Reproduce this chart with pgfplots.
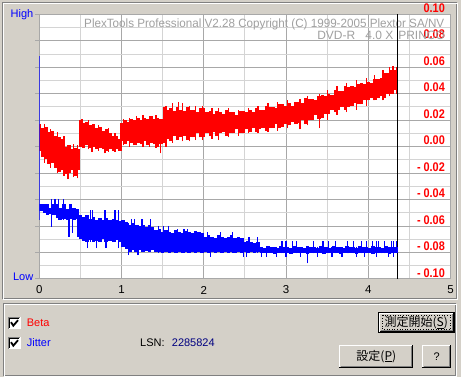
\documentclass[border=0pt]{standalone}
\usepackage{fontspec}
\setmainfont{Liberation Sans}
\newfontfamily\cjk{Noto Sans CJK JP}
\usepackage{graphicx}
\usepackage{pgfplots}
\usepackage{pgfplotstable}
\pgfplotsset{compat=1.18}
\definecolor{panel}{HTML}{D4D0C8}
\definecolor{gridd}{HTML}{A8A8A8}
\definecolor{gridl}{HTML}{D4D4D4}
\definecolor{wm}{HTML}{A0A0A0}
\definecolor{shadow}{HTML}{808080}
\definecolor{navy}{HTML}{000080}
\newcommand{\ui}{\fontsize{11bp}{13bp}\selectfont}

% Beta: dense band, one column per row (x, low, high)
\pgfplotstableread{
x lo hi
0.00 -0.003 0.017
0.04 -0.008 0.014
0.08 -0.009 0.015
0.12 -0.013 0.011
0.16 -0.012 0.012
0.20 -0.016 0.008
0.24 -0.019 0.007
0.28 -0.018 0.006
0.32 -0.021 0.000
0.36 -0.020 0.001
0.40 -0.018 -0.002
0.44 -0.022 -0.001
0.47 -0.018 -0.002
0.50 0.000 0.020
0.54 -0.001 0.018
0.58 0.001 0.019
0.62 -0.001 0.016
0.66 0.000 0.017
0.70 -0.002 0.014
0.74 -0.001 0.015
0.78 -0.002 0.012
0.82 -0.003 0.013
0.86 -0.002 0.010
0.90 -0.003 0.008
0.94 -0.002 0.008
0.98 -0.003 0.006
1.00 0.004 0.018
1.04 0.002 0.020
1.08 0.004 0.019
1.12 0.003 0.021
1.16 0.001 0.020
1.20 0.003 0.022
1.24 0.002 0.020
1.28 0.004 0.022
1.32 0.001 0.021
1.36 0.003 0.023
1.40 0.002 0.021
1.44 0.000 0.022
1.48 0.002 0.021
1.52 0.003 0.030
1.56 0.006 0.028
1.60 0.004 0.029
1.64 0.008 0.027
1.68 0.005 0.030
1.72 0.007 0.028
1.76 0.008 0.027
1.80 0.005 0.030
1.84 0.007 0.028
1.88 0.007 0.028
1.92 0.010 0.026
1.96 0.007 0.029
2.00 0.007 0.029
2.04 0.010 0.026
2.08 0.008 0.027
2.12 0.011 0.025
2.16 0.008 0.027
2.20 0.010 0.026
2.24 0.011 0.025
2.28 0.008 0.028
2.32 0.010 0.026
2.36 0.010 0.026
2.40 0.013 0.024
2.44 0.010 0.027
2.48 0.010 0.027
2.52 0.013 0.026
2.56 0.011 0.028
2.60 0.014 0.026
2.64 0.011 0.029
2.68 0.013 0.028
2.72 0.014 0.028
2.76 0.012 0.031
2.80 0.014 0.030
2.84 0.014 0.030
2.88 0.017 0.029
2.92 0.014 0.032
2.96 0.015 0.032
3.00 0.017 0.031
3.04 0.016 0.033
3.08 0.019 0.031
3.12 0.017 0.034
3.16 0.018 0.034
3.20 0.020 0.033
3.24 0.017 0.037
3.28 0.020 0.036
3.32 0.020 0.036
3.36 0.024 0.035
3.40 0.021 0.038
3.44 0.022 0.039
3.48 0.025 0.038
3.52 0.025 0.040
3.56 0.028 0.039
3.60 0.026 0.043
3.64 0.028 0.042
3.68 0.030 0.042
3.72 0.028 0.046
3.76 0.030 0.045
3.80 0.031 0.046
3.84 0.033 0.045
3.88 0.032 0.047
3.92 0.032 0.048
3.96 0.035 0.047
4.00 0.035 0.049
4.04 0.037 0.048
4.08 0.035 0.051
4.12 0.037 0.051
4.16 0.038 0.052
4.20 0.037 0.056
4.24 0.040 0.056
4.28 0.040 0.058
4.32 0.043 0.058
}\betaband

% Beta: single spikes reaching beyond the band
\pgfplotstableread{
x lo hi
0.06 -0.012 0.017
0.14 -0.016 0.013
0.22 -0.020 0.011
0.30 -0.022 0.008
0.35 -0.0245 0.000
0.42 -0.023 0.002
0.46 -0.024 0.001
0.52 0.000 0.021
0.60 -0.002 0.020
0.64 -0.004 0.015
0.72 -0.003 0.016
0.80 -0.005 0.010
0.84 -0.004 0.014
0.92 -0.004 0.010
1.02 0.001 0.021
1.10 0.000 0.022
1.18 0.001 0.023
1.26 0.000 0.024
1.34 0.000 0.023
1.42 -0.001 0.024
1.47 -0.005 0.018
1.54 0.000 0.031
1.62 0.003 0.033
1.69 0.006 0.034
1.74 0.004 0.033
1.83 0.004 0.031
1.90 0.005 0.031
1.98 0.005 0.031
2.10 0.006 0.029
2.18 0.005 0.029
2.30 0.007 0.029
2.42 0.008 0.028
2.54 0.010 0.029
2.66 0.010 0.031
2.78 0.011 0.033
2.90 0.012 0.034
3.02 0.014 0.035
3.17 0.013 0.036
3.26 0.016 0.038
3.41 0.014 0.040
3.50 0.020 0.043
3.62 0.024 0.046
3.74 0.026 0.048
3.86 0.028 0.050
3.98 0.031 0.052
4.08 0.035 0.054
4.18 0.035 0.058
4.26 0.038 0.060
4.30 0.040 0.061
4.345 0.040 0.060
4.355 0.041 0.058
}\betaspike

% Jitter (0 = Low, 1 = High): dense band
\pgfplotstableread{
x lo hi
0.02 0.258 0.283
0.06 0.250 0.283
0.10 0.242 0.283
0.14 0.245 0.270
0.18 0.240 0.283
0.22 0.230 0.283
0.26 0.223 0.270
0.30 0.225 0.283
0.34 0.223 0.265
0.38 0.228 0.283
0.42 0.223 0.270
0.46 0.225 0.265
0.50 0.150 0.242
0.54 0.145 0.235
0.58 0.141 0.242
0.62 0.148 0.228
0.66 0.141 0.235
0.70 0.145 0.223
0.74 0.141 0.232
0.78 0.150 0.223
0.82 0.141 0.230
0.86 0.145 0.223
0.90 0.141 0.228
0.94 0.148 0.223
0.98 0.141 0.220
1.02 0.122 0.223
1.06 0.115 0.215
1.10 0.103 0.204
1.14 0.110 0.210
1.18 0.103 0.204
1.22 0.108 0.200
1.26 0.103 0.204
1.30 0.106 0.198
1.34 0.103 0.204
1.38 0.108 0.195
1.42 0.103 0.185
1.46 0.103 0.190
1.50 0.099 0.179
1.54 0.103 0.185
1.58 0.099 0.179
1.62 0.103 0.175
1.66 0.099 0.185
1.70 0.103 0.179
1.74 0.099 0.175
1.78 0.103 0.182
1.82 0.099 0.179
1.86 0.103 0.175
1.90 0.099 0.182
1.94 0.103 0.179
1.98 0.099 0.175
2.02 0.103 0.160
2.06 0.099 0.165
2.10 0.103 0.160
2.14 0.099 0.155
2.18 0.103 0.165
2.22 0.099 0.160
2.26 0.103 0.155
2.30 0.099 0.160
2.34 0.103 0.165
2.38 0.099 0.155
2.42 0.103 0.160
2.46 0.099 0.155
2.50 0.103 0.141
2.54 0.099 0.145
2.58 0.103 0.141
2.62 0.099 0.135
2.66 0.103 0.141
2.70 0.099 0.122
2.74 0.100 0.118
2.78 0.097 0.124
2.82 0.099 0.120
2.86 0.095 0.122
2.90 0.097 0.118
2.94 0.100 0.124
2.98 0.097 0.120
3.02 0.099 0.122
3.06 0.095 0.118
3.10 0.097 0.124
3.14 0.100 0.120
3.18 0.097 0.122
3.22 0.099 0.118
3.26 0.095 0.124
3.30 0.097 0.120
3.34 0.100 0.122
3.38 0.097 0.118
3.42 0.099 0.124
3.46 0.095 0.120
3.50 0.097 0.122
3.54 0.100 0.118
3.58 0.097 0.124
3.62 0.099 0.120
3.66 0.095 0.122
3.70 0.097 0.118
3.74 0.100 0.124
3.78 0.097 0.120
3.82 0.099 0.122
3.86 0.095 0.118
3.90 0.097 0.124
3.94 0.100 0.120
3.98 0.097 0.122
4.02 0.099 0.118
4.06 0.095 0.124
4.10 0.097 0.120
4.14 0.100 0.122
4.18 0.097 0.118
4.22 0.099 0.124
4.26 0.095 0.120
4.30 0.097 0.122
4.34 0.099 0.120
}\jitband

% Jitter: single spikes
\pgfplotstableread{
x lo hi
0.005 0.223 0.842
0.15 0.198 0.301
0.19 0.240 0.301
0.23 0.223 0.301
0.29 0.223 0.301
0.36 0.160 0.265
0.40 0.175 0.270
0.47 0.160 0.265
0.59 0.117 0.235
0.62 0.141 0.261
0.65 0.141 0.261
0.70 0.117 0.223
0.80 0.141 0.261
0.81 0.117 0.223
0.92 0.141 0.261
0.96 0.117 0.261
1.08 0.090 0.210
1.12 0.103 0.225
1.16 0.103 0.225
1.20 0.090 0.204
1.25 0.103 0.225
1.35 0.103 0.225
1.45 0.099 0.200
1.51 0.099 0.200
1.57 0.099 0.200
1.68 0.099 0.190
1.76 0.099 0.190
1.80 0.099 0.190
2.05 0.099 0.179
2.08 0.084 0.160
2.20 0.099 0.179
2.35 0.099 0.179
2.48 0.084 0.155
2.52 0.084 0.141
2.55 0.099 0.160
2.65 0.099 0.160
2.70 0.084 0.122
2.76 0.084 0.122
2.88 0.084 0.122
2.95 0.097 0.145
3.00 0.084 0.145
3.08 0.097 0.145
3.13 0.097 0.145
3.18 0.084 0.122
3.26 0.059 0.122
3.33 0.097 0.145
3.38 0.084 0.122
3.45 0.097 0.145
3.52 0.097 0.145
3.56 0.084 0.122
3.60 0.097 0.145
3.68 0.084 0.122
3.75 0.097 0.145
3.82 0.097 0.145
3.86 0.084 0.122
3.92 0.097 0.145
3.95 0.084 0.122
3.98 0.097 0.145
4.05 0.097 0.145
4.10 0.084 0.145
4.12 0.097 0.145
4.20 0.097 0.145
4.25 0.084 0.122
4.28 0.097 0.145
4.31 0.084 0.145
4.34 0.097 0.145
}\jitspike

\pgfplotsset{
  common/.style={
    at={(39.3bp,98bp)}, anchor=south west,
    width=411.2bp, height=264.7bp, scale only axis,
    xmin=0, xmax=5,
  },
  cols/.style 2 args={draw=none, mark=none,
    error bars/y dir=plus, error bars/y explicit, error bars/error mark=none,
    error bars/error bar style={line width=#1, draw=#2}},
}

\begin{document}
\begin{tikzpicture}
\path[use as bounding box, fill=panel] (0,0) rectangle (461bp,377bp);
\begin{scope}[x=1bp,y=-1bp,shift={(0bp,377bp)}]
  \draw[shadow, line width=1bp] (2.5,2.5) rectangle (456.5,298.5);
  \draw[white, line width=1bp] (3.5,3.5) rectangle (457.5,299.5);
  \draw[shadow, line width=1bp] (3.5,303.5) rectangle (455.5,375.5);
  \draw[white, line width=1bp] (4.5,304.5) rectangle (456.5,376.5);
\end{scope}

% Beta axis (right scale)
\begin{axis}[common,
  ymin=-0.1, ymax=0.1,
  axis background/.style={fill=white},
  xtick={0,1,2,3,4,5}, xticklabels={0,1,2,3,4,5},
  minor xtick={0.5,1.5,2.5,3.5,4.5},
  ytick={-0.1,-0.08,-0.06,-0.04,-0.02,0,0.02,0.04,0.06,0.08,0.1},
  minor ytick={-0.09,-0.07,-0.05,-0.03,-0.01,0.01,0.03,0.05,0.07,0.09},
  yticklabels={-\hspace{3.5bp}0.10,-\hspace{3.5bp}0.08,-\hspace{3.5bp}0.06,-\hspace{3.5bp}0.04,-\hspace{3.5bp}0.02,0.00,0.02,0.04,0.06,0.08,0.10},
  grid=both,
  major grid style={draw=gridd, line width=1bp},
  minor grid style={draw=gridl, line width=1bp},
  axis line style={draw=gridd, line width=1bp},
  major tick length=0pt, minor tick length=0pt,
  yticklabel pos=right,
  yticklabel style={red, font=\fontsize{12.5bp}{13bp}\selectfont\bfseries,
    anchor=east, inner sep=0pt, xscale=0.87, xshift=-6.3bp, yshift=6.3bp},
  xticklabel style={black, font=\fontsize{11.5bp}{13bp}\selectfont,
    anchor=center, inner sep=0pt, yshift=-11bp},
]
\node[wm, font=\fontsize{12bp}{13bp}\selectfont, anchor=west, inner sep=0pt] at (axis cs:0.544,0.0923)
  {\resizebox{360bp}{\height}{PlexTools Professional V2.28 Copyright (C) 1999-2005 Plextor SA/NV}};
\node[wm, font=\fontsize{12bp}{13bp}\selectfont, anchor=west, inner sep=0pt] at (axis cs:3.378,0.0844) {DVD-R};
\node[wm, font=\fontsize{12bp}{13bp}\selectfont, anchor=west, inner sep=0pt] at (axis cs:3.962,0.0844) {4.0 X};
\node[wm, font=\fontsize{12bp}{13bp}\selectfont, anchor=east, inner sep=0pt] at (axis cs:4.935,0.0844) {PRINCO};
\addplot[cols={3.4bp}{red}]
  table[x=x, y=lo, y error expr=\thisrow{hi}-\thisrow{lo}] {\betaband};
\addplot[cols={1.2bp}{red}]
  table[x=x, y=lo, y error expr=\thisrow{hi}-\thisrow{lo}] {\betaspike};
\addplot[black, line width=1bp] coordinates {(4.36,-0.1) (4.36,0.1)};
\end{axis}

% Jitter axis (High / Low)
\begin{axis}[common,
  ymin=0, ymax=1,
  axis line style={draw=none},
  xtick=\empty,
  ytick={0,0.1,0.2,0.3,0.4,0.5,0.6,0.7,0.8,0.9,1},
  yticklabels={,,,,,,,,,,High},
  extra y ticks={0}, extra y tick labels={Low},
  extra y tick style={yticklabel style={yshift=2bp}},
  ytick pos=left, tick align=outside, major tick length=4bp,
  tick style={draw=gridd, line width=1bp},
  yticklabel style={blue, font=\ui, anchor=east, inner sep=0pt, xshift=-1.8bp},
]
\addplot[cols={3.4bp}{blue}]
  table[x=x, y=lo, y error expr=\thisrow{hi}-\thisrow{lo}] {\jitband};
\addplot[cols={1.2bp}{blue}]
  table[x=x, y=lo, y error expr=\thisrow{hi}-\thisrow{lo}] {\jitspike};
\end{axis}

\begin{scope}[x=1bp,y=-1bp,shift={(0bp,377bp)}]
  % checkboxes
  \foreach \yy in {316.7,336.7}{
    \fill[white] (8,\yy) rectangle (20.7,\yy+12.6);
    \draw[shadow, line width=1bp] (8.5,\yy+12.1) -- (8.5,\yy+0.5) -- (20.2,\yy+0.5);
    \draw[black, line width=1bp] (9.5,\yy+11.1) -- (9.5,\yy+1.5) -- (19.2,\yy+1.5);
    \draw[black, line width=1.8bp] (11,\yy+5.5) -- (13.3,\yy+9) -- (18,\yy+3.5);
  }
  \node[red, font=\ui, anchor=west, inner sep=0pt] at (26.7,322.3) {Beta};
  \node[blue, font=\ui, anchor=west, inner sep=0pt] at (26.7,342.7) {Jitter};
  \node[black, font=\ui, anchor=west, inner sep=0pt] at (140,342.7) {LSN:};
  \node[navy, font=\ui, anchor=west, inner sep=0pt] at (171.7,342.7) {2285824};
  % default button
  \draw[black, line width=1bp] (378.8,312.2) rectangle (454.0,333.0);
  \draw[white, line width=1bp] (379.8,332.0) -- (379.8,313.2) -- (453.0,313.2);
  \draw[black, line width=1bp] (379.8,332.0) -- (453.0,332.0) -- (453.0,313.2);
  \draw[shadow, line width=1bp] (380.8,331.0) -- (452.0,331.0) -- (452.0,314.2);
  \draw[black, line width=0.6bp, dotted] (382.5,315.5) rectangle (450.3,329.5);
  \node[font=\cjk\fontsize{12bp}{13bp}\selectfont, inner sep=0pt] at (416.3,322.6) {測定開始(\underline{S})};
  % other buttons
  \foreach \xa/\xb in {339.3/413.3, 422.3/451.0}{
    \draw[white, line width=1bp] (\xa+0.5,367.2) -- (\xa+0.5,345.5) -- (\xb-0.5,345.5);
    \draw[black, line width=1bp] (\xa,367.2) -- (\xb-0.5,367.2) -- (\xb-0.5,345);
    \draw[shadow, line width=1bp] (\xa+1.5,366.2) -- (\xb-1.5,366.2) -- (\xb-1.5,346.5);
  }
  \node[font=\cjk\fontsize{12bp}{13bp}\selectfont, inner sep=0pt] at (376.3,356.3) {設定(\underline{P})};
  \node[font=\ui, inner sep=0pt] at (436.7,356.3) {?};
\end{scope}
\end{tikzpicture}
\end{document}
